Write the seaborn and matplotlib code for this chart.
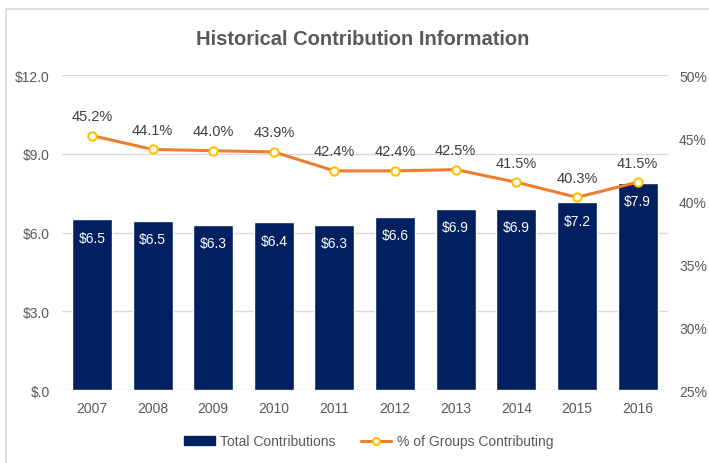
"""Historical contribution chart: bars for totals, line for % of groups contributing."""

import matplotlib.pyplot as plt
import numpy as np
import seaborn as sns
from matplotlib.lines import Line2D
from matplotlib.ticker import FuncFormatter

YEARS = ["2007", "2008", "2009", "2010", "2011", "2012", "2013", "2014", "2015", "2016"]
TOTAL_CONTRIBUTIONS = [6.5, 6.45, 6.3, 6.4, 6.3, 6.6, 6.9, 6.9, 7.15, 7.9]
TOTAL_LABELS = ["$6.5", "$6.5", "$6.3", "$6.4", "$6.3", "$6.6", "$6.9", "$6.9", "$7.2", "$7.9"]
PCT_CONTRIBUTING = [45.2, 44.1, 44.0, 43.9, 42.4, 42.4, 42.5, 41.5, 40.3, 41.5]

NAVY = "#002060"
ORANGE = "#ED7D31"
GOLD = "#FFC000"
GRID = "#D9D9D9"
TEXT = "#595959"

sns.set_theme(style="white")
plt.rcParams["font.family"] = ["Liberation Sans", "DejaVu Sans"]

fig = plt.figure(figsize=(7.09, 4.64), dpi=100)
ax = fig.add_axes([0.087, 0.157, 0.855, 0.679])

sns.barplot(x=YEARS, y=TOTAL_CONTRIBUTIONS, color=NAVY, saturation=1, width=0.66, ax=ax)
ax.set_ylim(0, 12)
ax.set_yticks([0, 3, 6, 9, 12])
ax.yaxis.set_major_formatter(FuncFormatter(lambda v, _: "$.0" if v == 0 else f"${v:.1f}"))
ax.grid(axis="y", color=GRID, linewidth=1)
ax.set_axisbelow(True)
for side in ax.spines:
    ax.spines[side].set_visible(False)
ax.tick_params(axis="x", colors=TEXT, labelsize=10, length=0, pad=8)
ax.tick_params(axis="y", colors=TEXT, labelsize=10, length=0, pad=8.5)
ax.set_xlabel("")
ax.set_ylabel("")

for i, (val, lab) in enumerate(zip(TOTAL_CONTRIBUTIONS, TOTAL_LABELS)):
    ax.text(i, val - 0.7, lab, ha="center", va="center", color="white", fontsize=10)

ax2 = ax.twinx()
sns.lineplot(x=np.arange(len(YEARS)), y=PCT_CONTRIBUTING, ax=ax2, color=ORANGE, linewidth=2.2,
             marker="o", markersize=6, markerfacecolor="white", markeredgecolor=GOLD,
             markeredgewidth=1.5)
ax2.set_ylim(25, 50)
ax2.set_yticks([25, 30, 35, 40, 45, 50])
ax2.yaxis.set_major_formatter(FuncFormatter(lambda v, _: f"{v:.0f}%"))
ax2.tick_params(axis="y", colors=TEXT, labelsize=10, length=0, pad=8)
for side in ax2.spines:
    ax2.spines[side].set_visible(False)
ax2.grid(False)
ax2.set_ylabel("")
for i, p in enumerate(PCT_CONTRIBUTING):
    ax2.text(i, p + 1.0, f"{p:.1f}%", ha="center", va="bottom", color="#404040", fontsize=10.5)
ax.set_xlim(-0.5, len(YEARS) - 0.5)

fig.text(0.512, 0.914, "Historical Contribution Information", ha="center", va="center",
         fontsize=14.5, fontweight="bold", color=TEXT)

handles = [
    plt.Rectangle((0, 0), 1, 1, color=NAVY),
    Line2D([0], [0], color=ORANGE, linewidth=2.2, marker="o", markersize=5,
           markerfacecolor="white", markeredgecolor=GOLD, markeredgewidth=1.5),
]
fig.legend(handles, ["Total Contributions", "% of Groups Contributing"], loc="center",
           bbox_to_anchor=(0.52, 0.047), ncol=2, frameon=False, fontsize=10,
           labelcolor=TEXT, handlelength=2.2, handleheight=0.6, handletextpad=0.4,
           columnspacing=1.8)

fig.add_artist(Line2D([6 / 709, 6 / 709], [0, 1 - 10 / 464], color=GRID, linewidth=1.2))
fig.add_artist(Line2D([6 / 709, 1], [1 - 10 / 464, 1 - 10 / 464], color=GRID, linewidth=1.2))

fig.savefig("out.png", dpi=100)
